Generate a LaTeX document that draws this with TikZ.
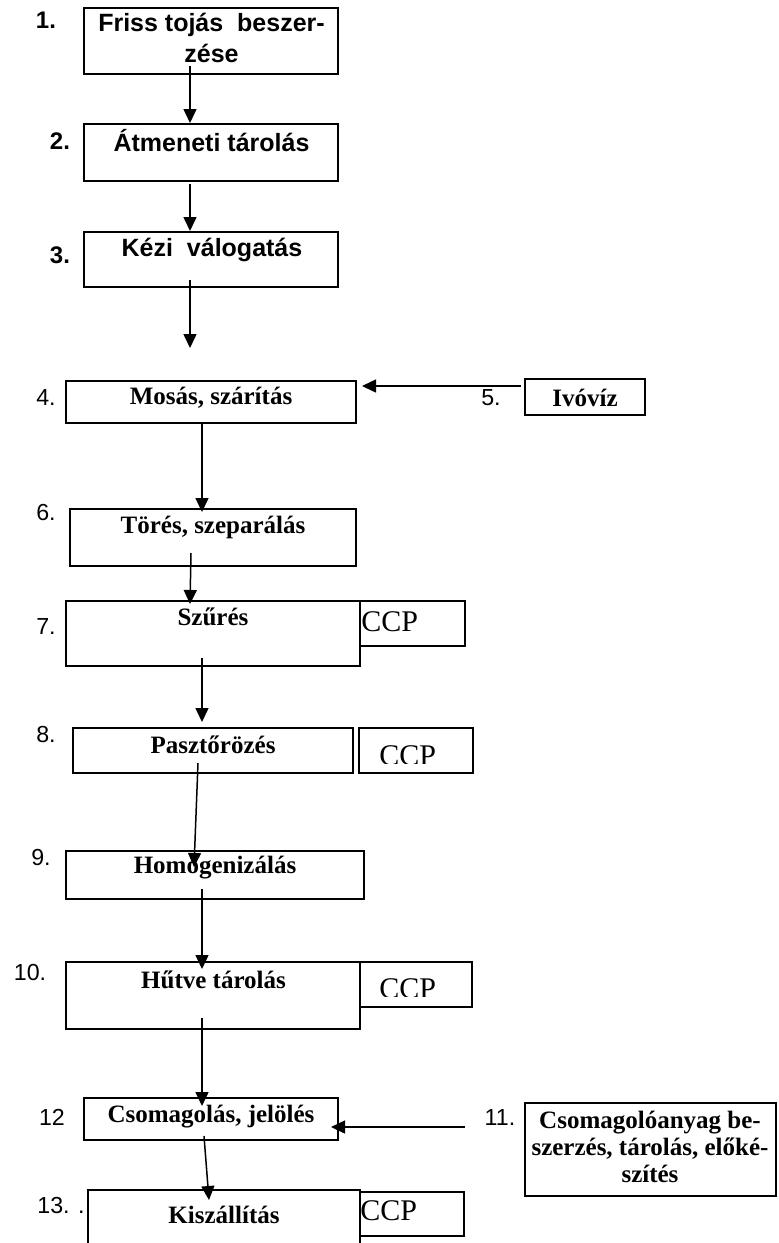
\documentclass[tikz,border=0pt]{standalone}
\usepackage{fontspec}
\setmainfont{Liberation Serif}
\newfontfamily\arialf{Liberation Sans}
\usetikzlibrary{arrows.meta,fit}
\tikzset{
  box/.style={draw, line width=1pt, inner sep=0pt},
  tnr/.style={font=\fontsize{12.5}{13.5}\selectfont\bfseries, inner sep=0pt, align=center},
  hel/.style={font=\arialf\fontsize{12.5}{15.5}\selectfont\bfseries, inner sep=0pt, align=center},
  num/.style={font=\arialf\fontsize{11.6}{13}\selectfont, inner sep=0pt},
  numb/.style={font=\arialf\fontsize{12}{13}\selectfont\bfseries, inner sep=0pt},
  ccp/.style={font=\fontsize{15}{18}\selectfont, inner sep=0pt, anchor=base west},
  arr/.style={-{Triangle[length=7pt,width=6.5pt]}, line width=0.75pt},
}
\begin{document}
\begin{tikzpicture}[x=0.5pt,y=-0.5pt]
\useasboundingbox (0,0) rectangle (779,1243);
\clip (0,0) rectangle (779,1243);

% boxes
\node[box, fit={(84,8) (338,74)}] (b1) {};
\node[box, fit={(84,124) (338,181)}] (b2) {};
\node[box, fit={(84,232) (338,287)}] (b3) {};
\node[box, fit={(66,381) (356,423)}] (b4) {};
\node[box, fit={(525,379) (645,415)}] (b5) {};
\node[box, fit={(70,509) (356,566)}] (b6) {};
\node[box, fit={(66,601) (360,666)}] (b7) {};
\node[box, fit={(360,601) (465,646)}] (c7) {};
\node[box, fit={(73,728) (353,773)}] (b8) {};
\node[box, fit={(359,728) (473,773)}] (c8) {};
\node[box, fit={(66,851) (364,899)}] (b9) {};
\node[box, fit={(66,962) (360,1029)}] (b10) {};
\node[box, fit={(360,962) (472,1007)}] (c10) {};
\node[box, fit={(525,1103) (776,1196)}] (b11) {};
\node[box, fit={(84,1098) (338,1140)}] (b12) {};
\node[box, fit={(88,1190) (360,1262)}] (b13) {};
\node[box, fit={(360,1192) (464,1236)}] (c13) {};

% box texts
\node[hel] (t1) at (211.5,38) {Friss tojás\ \ beszer-\\zése};
\node[hel] (t2) at (211.5,141) {Átmeneti tárolás};
\node[hel] (t3) at (212,250) {Kézi\ \ válogatás};
\node[tnr] (t4) at (211,398) {Mosás, szárítás};
\node[tnr] (t5) at (585,398) {Ivóvíz};
\node[tnr] (t6) at (213,527) {Törés, szeparálás};
\node[tnr] (t7) at (213,617) {Szűrés};
\node[tnr] (t8) at (213,745) {Pasztőrözés};
\node[tnr] (t9) at (215,868) {Homogenizálás};
\node[tnr] (t10) at (213.5,980) {Hűtve tárolás};
\node[tnr] (t11) at (650,1147) {Csomagolóanyag be-\\szerzés, tárolás, előké-\\szítés};
\node[tnr] (t12) at (211,1117) {Csomagolás, jelölés};
\node[tnr] (t13) at (224,1215) {Kiszállítás};

% CCP texts
\node[ccp] (p7) at (361,631) {CCP};
\begin{scope}
  \clip (359,728) rectangle (473,763.5);
  \node[ccp] (p8) at (379,765) {CCP};
\end{scope}
\begin{scope}
  \clip (360,962) rectangle (472,996.5);
  \node[ccp] (p10) at (379,998) {CCP};
\end{scope}
\node[ccp] (p13) at (360,1220) {CCP};

% number labels
\node[numb] (n1) at (46,20) {1.};
\node[numb] (n2) at (60,141) {2.};
\node[numb] (n3) at (60,255) {3.};
\node[num] (n4) at (46,398) {4.};
\node[num] (n5) at (491,398) {5.};
\node[num] (n6) at (46,513) {6.};
\node[num] (n7) at (46,627) {7.};
\node[num] (n8) at (46,735) {8.};
\node[num] (n9) at (41,858) {9.};
\node[num] (n10) at (30,973) {10.};
\node[num] (n11) at (500,1118) {11.};
\node[num] (n12) at (52,1117) {12};
\node[num] (n13) at (61,1205) {13. .};

% connectors
\coordinate (e3) at (190,348);
\draw[arr] ([xshift=-10.5pt,yshift=4.5pt]b1.south) -- ([xshift=-10.5pt]b2.north);
\draw[arr] ([xshift=-10.5pt,yshift=-1pt]b2.south) -- ([xshift=-10.5pt]b3.north);
\draw[arr] ([xshift=-10.5pt,yshift=4pt]b3.south) -- (e3);
\draw[arr] ([xshift=-1.5pt,yshift=5.5pt]b5.west) -- ([xshift=2.5pt,yshift=8pt]b4.east);
\draw[arr] ([xshift=-4.5pt]b4.south) -- ([xshift=-5.5pt,yshift=-2pt]b6.north);
\draw[arr] ([xshift=-11pt,yshift=7pt]b6.south) -- ([xshift=-11.5pt,yshift=-2pt]b7.north);
\draw[arr] ([xshift=-5.5pt,yshift=4.5pt]b7.south) -- ([xshift=-5.5pt,yshift=2.5pt]b8.north);
\draw[arr] ([xshift=-7.5pt,yshift=5.5pt]b8.south) -- ([xshift=-10.5pt,yshift=-8.5pt]b9.north);
\draw[arr] ([xshift=-6.5pt,yshift=5.5pt]b9.south) -- ([xshift=-5.5pt,yshift=-4pt]b10.north);
\draw[arr] ([xshift=-5.5pt,yshift=6pt]b10.south) -- ([xshift=-4.5pt,yshift=-4.5pt]b12.north);
\draw[arr] ([xshift=-29.5pt,yshift=11.25pt]b11.west) -- ([xshift=-4pt,yshift=-4pt]b12.east);
\draw[arr] ([xshift=-3.5pt,yshift=2.5pt]b12.south) -- ([xshift=-7.5pt,yshift=-5.5pt]b13.north);
\end{tikzpicture}
\end{document}
